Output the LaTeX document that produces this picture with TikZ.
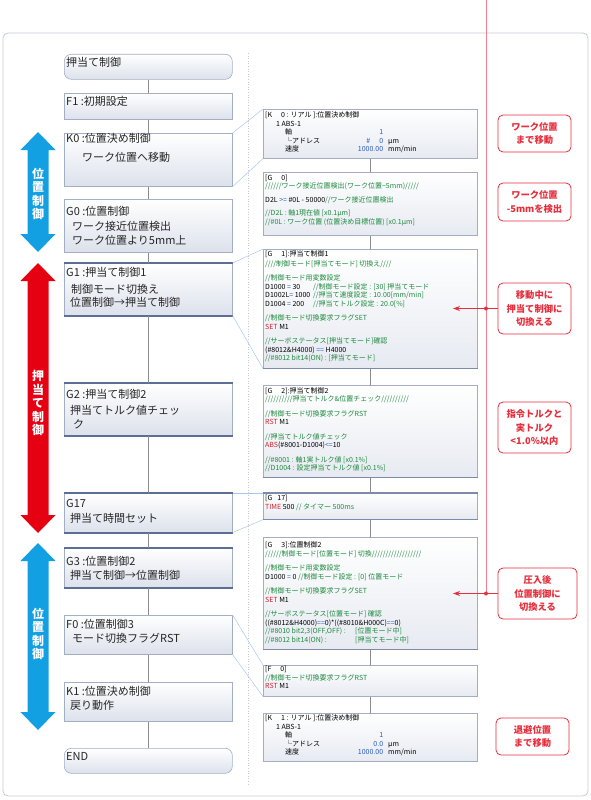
\documentclass[tikz,border=0pt]{standalone}
\usepackage{fontspec}
\setmainfont{Noto Sans CJK JP}
\usetikzlibrary{arrows.meta, positioning}

\definecolor{framegray}{HTML}{C5CAD3}
\definecolor{boxline}{HTML}{A3AEC4}
\definecolor{boxbot}{HTML}{DCE1EB}
\definecolor{barblue}{HTML}{5C6E96}
\definecolor{flowgray}{HTML}{8C8C8C}
\definecolor{linkblue}{HTML}{A8C8EA}
\definecolor{bluebar}{HTML}{12A0E2}
\definecolor{redbar}{HTML}{E50012}
\definecolor{calred}{HTML}{E62E3C}
\definecolor{pinkline}{HTML}{F0808E}
\definecolor{codegreen}{HTML}{1E8A3E}
\definecolor{codered}{HTML}{D2202E}
\definecolor{codeblue}{HTML}{2A5CC0}

\newcommand{\cmt}[1]{\textcolor{codegreen}{#1}}
\newcommand{\kwd}[1]{\textcolor{codered}{#1}}
\newcommand{\val}[1]{\textcolor{codeblue}{#1}}

\tikzset{
  flowbox/.style={draw=boxline, line width=0.6pt, top color=white, bottom color=boxbot,
    anchor=north west, minimum width=168pt, inner sep=0pt},
  codebox/.style={draw=boxline, line width=0.6pt, top color=white, bottom color=boxbot!70,
    anchor=north west, minimum width=214pt, inner sep=0pt},
  gbar/.style={barblue, line width=2.2pt},
  cbar/.style={barblue!80, line width=1.3pt},
  flowtext/.style={anchor=north west, inner sep=0pt, align=left, text=black!85,
    font=\fontsize{11}{13.5}\selectfont},
  codetext/.style={anchor=north west, inner sep=0pt, align=left, font=\fontsize{7}{8.5}\selectfont},
  flowline/.style={flowgray, line width=0.6pt},
  linkline/.style={linkblue, line width=0.5pt},
  vtext/.style={text=white, font=\bfseries\fontsize{12}{13.5}\selectfont, align=center, inner sep=0pt},
  callout/.style={draw=calred, line width=0.8pt, rounded corners=5pt, fill=white, text=calred,
    font=\bfseries\fontsize{9.3}{13.5}\selectfont, align=center, minimum width=73pt, inner sep=0pt},
  redlink/.style={calred, line width=0.8pt},
}

\begin{document}
\begin{tikzpicture}[x=1pt, y=-1pt, >=Stealth]
    \useasboundingbox (0,0) rectangle (590,800);

    % Draw outer frame and divider
    \draw[framegray, line width=0.8pt, rounded corners=5pt] (3,33) rectangle (588,796);
    \draw[framegray, line width=0.6pt, dotted] (248,53) -- (248,786);

    % Draw left flow boxes
    \node[flowbox, rounded corners=7pt, minimum height=25pt] (title) at (64,54) {};
    \node[flowbox, minimum height=26pt] (f1) at (64,93) {};
    \node[flowbox, minimum height=53pt] (k0) at (64,133) {};
    \node[flowbox, minimum height=53pt] (g0) at (64,199) {};
    \node[flowbox, minimum height=52pt] (g1) at (64,263) {};
    \node[flowbox, minimum height=52pt] (g2) at (64,383) {};
    \node[flowbox, minimum height=39pt] (g17) at (64,493) {};
    \node[flowbox, minimum height=39pt] (g3) at (64,548) {};
    \node[flowbox, minimum height=39pt] (f0) at (64,615) {};
    \node[flowbox, minimum height=39pt] (k1) at (64,682) {};
    \node[flowbox, rounded corners=7pt, minimum height=25pt] (fin) at (64,748) {};
    \foreach \n in {g1,g2,g17,g3} {
        \draw[gbar] (\n.north west) -- (\n.north east);
        \draw[gbar] (\n.south west) -- (\n.south east);
    }

    % Draw left flow texts
    \node[flowtext] (titlet) at (66,57.5) {押当て制御};
    \node[flowtext] (f1t) at (66,96.5) {F1 :初期設定};
    \node[flowtext] (k0t) at (66,133.5) {K0 :位置決め制御\\[5pt]\hspace{16pt}ワーク位置へ移動};
    \node[flowtext] (g0t) at (66,206.5) {G0 :位置制御\\[1.5pt]\hspace{6pt}ワーク接近位置検出\\\hspace{6pt}ワーク位置より5mm上};
    \node[flowtext] (g1t) at (66,267.5) {G1 :押当て制御1\\[3pt]\hspace{5pt}制御モード切換え\\\hspace{4pt}位置制御→押当て制御};
    \node[flowtext] (g2t) at (66,389.5) {G2 :押当て制御2\\[2.5pt]\hspace{4pt}押当てトルク値チェッ\\\hspace{7pt}ク};
    \node[flowtext] (g17t) at (66,499.5) {G17\\[1.5pt]\hspace{4pt}押当て時間セット};
    \node[flowtext] (g3t) at (66,556.5) {G3 :位置制御2\\[0.5pt]\hspace{4pt}押当て制御→位置制御};
    \node[flowtext] (f0t) at (66,619.5) {F0 :位置制御3\\[0.5pt]\hspace{6pt}モード切換フラグRST};
    \node[flowtext] (k1t) at (66,686.5) {K1 :位置決め制御\\[0.5pt]\hspace{4pt}戻り動作};
    \node[flowtext] (fint) at (66,752.5) {END};

    % Draw right program boxes
    \node[codebox, minimum height=49pt] (ck0) at (263,109) {};
    \node[codebox, minimum height=63pt] (cg0) at (263,172) {};
    \node[codebox, minimum height=119pt] (cg1) at (263,249) {};
    \node[codebox, minimum height=92pt] (cg2) at (263,385) {};
    \node[codebox, minimum height=26pt] (cg17) at (263,493) {};
    \node[codebox, minimum height=112pt] (cg3) at (263,537) {};
    \node[codebox, minimum height=31pt] (cf0) at (263,665) {};
    \node[codebox, minimum height=48pt] (ck1) at (263,713) {};
    \foreach \n in {cg1,cg2,cg17,cg3}
        \draw[cbar] (\n.south west) -- (\n.south east);
    \draw[cbar] (cg17.north west) -- (cg17.north east);

    % Draw program texts
    \node[codetext] (ck0t) at (265,111.5) {[K\hspace{9pt}0 : リアル ]:位置決め制御\\
        \hspace{11pt}1 ABS-1\\
        \hspace{20pt}\makebox[70pt][l]{軸}\makebox[28pt][r]{\val{1}}\\
        \hspace{20pt}\makebox[70pt][l]{└アドレス}\makebox[28pt][r]{\val{\#\hspace{9pt}0}}\hspace{5pt}μm\\
        \hspace{20pt}\makebox[70pt][l]{速度}\makebox[28pt][r]{\val{1000.00}}\hspace{5pt}mm/min};
    \node[codetext] (cg0t) at (265,174.5) {[G\hspace{9pt}0]\\
        \cmt{//////ワーク接近位置検出(ワーク位置−5mm)/////}\\[5.5pt]
        D2L \val{>=} \#0L - 50000\cmt{//ワーク接近位置検出}\\[4.5pt]
        \cmt{//D2L : 軸1現在値 [x0.1μm]}\\
        \cmt{//\#0L : ワーク位置 (位置決め目標位置) [x0.1μm]}};
    \node[codetext] (cg1t) at (265,250.5) {[G\hspace{9pt}1]:押当て制御1\\[1pt]
        \cmt{////制御モード[押当てモード] 切換え////}\\[6pt]
        \cmt{//制御モード用変数設定}\\
        \makebox[48pt][l]{D1000 \val{=} 30}\cmt{//制御モード設定 : [30] 押当てモード}\\
        \makebox[48pt][l]{D1002L\val{=} 1000}\cmt{//押当て速度設定 : 10.00[mm/min]}\\
        \makebox[48pt][l]{D1004 \val{=} 200}\cmt{//押当てトルク設定 : 20.0[\%]}\\[6pt]
        \cmt{//制御モード切換要求フラグSET}\\
        \kwd{SET} M1\\[6pt]
        \cmt{//サーボステータス[押当てモード]確認}\\
        (\#8012\&H4000) \val{==} H4000\\
        \cmt{//\#8012 bit14(ON) : [押当てモード]}};
    \node[codetext] (cg2t) at (265,387) {[G\hspace{9pt}2]:押当て制御2\\
        \cmt{//////////押当てトルク\&位置チェック//////////}\\[6pt]
        \cmt{//制御モード切換要求フラグRST}\\
        \kwd{RST} M1\\[6pt]
        \cmt{//押当てトルク値チェック}\\
        \kwd{ABS}(\#8001-D1004)\val{<=}10\\[6pt]
        \cmt{//\#8001 : 軸1実トルク値 [x0.1\%]}\\
        \cmt{//D1004 : 設定押当てトルク値 [x0.1\%]}};
    \node[codetext] (cg17t) at (265,495) {[G\hspace{5pt}17]\\
        \kwd{TIME} 500 \cmt{// タイマー 500ms}};
    \node[codetext] (cg3t) at (265,541.5) {[G\hspace{9pt}3]:位置制御2\\
        \cmt{//////制御モード[位置モード] 切換//////////////////}\\[6pt]
        \cmt{//制御モード用変数設定}\\
        D1000 \val{=} 0 \cmt{//制御モード設定 : [0] 位置モード}\\[6pt]
        \cmt{//制御モード切換要求フラグSET}\\
        \kwd{SET} M1\\[6pt]
        \cmt{//サーボステータス[位置モード] 確認}\\
        ((\#8012\&H4000)\val{==}0)*((\#8010\&H000C)\val{==}0)\\
        \cmt{\makebox[90pt][l]{//\#8010 bit2,3(OFF,OFF) :}[位置モード中]}\\
        \cmt{\makebox[90pt][l]{//\#8012 bit14(ON) :}[押当てモード中]}};
    \node[codetext] (cf0t) at (265,666) {[F\hspace{9pt}0]\\
        \cmt{//制御モード切換要求フラグRST}\\
        \kwd{RST} M1};
    \node[codetext] (ck1t) at (265,714.5) {[K\hspace{9pt}1 : リアル ]:位置決め制御\\
        \hspace{11pt}1 ABS-1\\
        \hspace{20pt}\makebox[70pt][l]{軸}\makebox[28pt][r]{\val{1}}\\
        \hspace{20pt}\makebox[70pt][l]{└アドレス}\makebox[28pt][r]{\val{0.0}}\hspace{5pt}μm\\
        \hspace{20pt}\makebox[70pt][l]{速度}\makebox[28pt][r]{\val{1000.00}}\hspace{5pt}mm/min};

    % Draw flow connectors
    \foreach \a/\b in {title/f1, f1/k0, k0/g0, g0/g1, g1/g2, g2/g17, g17/g3, g3/f0, f0/k1, k1/fin}
        \draw[flowline] (\a) -- (\b);
    \foreach \a/\b in {ck0/cg0, cg0/cg1, cg1/cg2, cg2/cg17, cg17/cg3, cg3/cf0, cf0/ck1}
        \draw[flowline] (\a) -- (\b);

    % Draw links from steps to programs
    \foreach \a/\b in {k0/ck0, g1/cg1, g17/cg17, f0/cf0} {
        \draw[linkline] (\a.north east) -- (\b.north west);
        \draw[linkline] (\a.south east) -- (\b.south west);
    }

    % Draw mode arrows
    \foreach \ya/\yb/\col in {132/252/bluebar, 263/533/redbar, 543/730/bluebar}
        \fill[\col] (38,\ya) -- (55.5,\ya+18) -- (48.5,\ya+18) -- (48.5,\yb-18) -- (55.5,\yb-18)
            -- (38,\yb) -- (20.5,\yb-18) -- (27.5,\yb-18) -- (27.5,\ya+18) -- (20.5,\ya+18) -- cycle;
    \node[vtext] (pos1) at (38,194) {位\\置\\制\\御};
    \node[vtext] (push) at (38,403) {押\\当\\て\\制\\御};
    \node[vtext] (pos2) at (38,634) {位\\置\\制\\御};

    % Draw notes
    \node[callout, minimum height=37pt] (c1) at (534.5,133.5) {ワーク位置\\まで移動};
    \node[callout, minimum height=38pt] (c2) at (534.5,202) {ワーク位置\\-5mmを検出};
    \node[callout, minimum height=51pt] (c3) at (534.5,308.5) {移動中に\\押当て制御に\\切換える};
    \node[callout, minimum height=51pt] (c4) at (534.5,427.5) {指令トルクと\\実トルク\\<1.0\%以内};
    \node[callout, minimum height=51pt, minimum width=79pt] (c5) at (537.5,593.5) {圧入後\\位置制御に\\切換える};
    \node[callout, minimum height=37pt] (c6) at (532.5,736.5) {退避位置\\まで移動};

    % Draw red pointer lines
    \coordinate (rtop) at (486,0);
    \coordinate (d1) at (486,308.5);
    \coordinate (d2) at (486,593.5);
    \coordinate (p1) at (453,308.5);
    \coordinate (p2) at (453,593.5);
    \draw[pinkline, line width=0.7pt] (rtop) -- (d2);
    \draw[redlink] (c3) -- (d1);
    \draw[redlink] (c5) -- (d2);
    \draw[redlink, -{Stealth[length=7pt, width=5pt]}] (d1) -- (p1);
    \draw[redlink, -{Stealth[length=7pt, width=5pt]}] (d2) -- (p2);
    \fill[calred] (d1) circle (2pt);
    \fill[calred] (d2) circle (2pt);

\end{tikzpicture}
\end{document}
